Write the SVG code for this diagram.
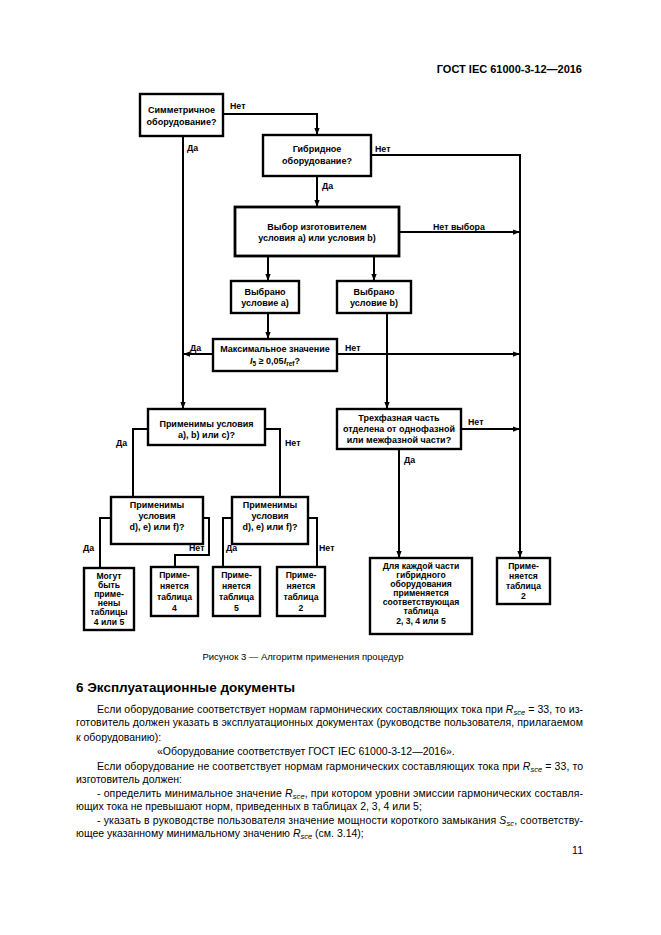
<svg xmlns="http://www.w3.org/2000/svg" width="661" height="935" viewBox="0 0 661 935">
<defs>
<marker id="ah" viewBox="0 0 8 6" refX="8" refY="3" markerWidth="7" markerHeight="5.5" markerUnits="userSpaceOnUse" orient="auto">
<path d="M0,0 L8,3 L0,6 z" fill="#000"/>
</marker>
</defs>
<style>
.bx{fill:#fff;stroke:#000;stroke-width:2.4}
.c{fill:none;stroke:#000;stroke-width:2}
.a{marker-end:url(#ah)}
.t{font-family:"Liberation Sans",Arial,sans-serif;font-size:9px;font-weight:bold;text-anchor:middle;fill:#000}
.s{font-family:"Liberation Sans",Arial,sans-serif;font-size:8.6px;font-weight:bold;text-anchor:middle;fill:#000}
.l{font-family:"Liberation Sans",Arial,sans-serif;font-size:8.8px;font-weight:bold;fill:#000}
.b{font-family:"Liberation Sans",Arial,sans-serif;font-size:10.5px;fill:#000}
.i{font-style:italic}
</style>
<rect width="661" height="935" fill="#fff"/>
<text x="582" y="73" style="font-family:'Liberation Sans',Arial,sans-serif;font-size:11px;font-weight:bold;text-anchor:end">ГОСТ IEC 61000-3-12—2016</text>

<g id="connectors">
<path class="c a" d="M223,114 H317 V135"/>
<path class="c a" d="M371,155 H520 V558"/>
<path class="c a" d="M317,176 V207"/>
<path class="c a" d="M399,232 H520"/>
<path class="c a" d="M268,256 V281"/>
<path class="c a" d="M374,256 V281"/>
<path class="c a" d="M268,313 V339"/>
<path class="c a" d="M213,354 H183"/>
<path class="c a" d="M337,354 H520"/>
<path class="c a" d="M387,313 V409"/>
<path class="c a" d="M183,136 V409"/>
<path class="c" d="M148,429 H133 V497"/>
<path class="c" d="M265,429 H280 V497"/>
<path class="c" d="M111,518 H100 V568"/>
<path class="c" d="M203,518 H209 V555 H175 V567"/>
<path class="c" d="M232,518 H223 V567"/>
<path class="c" d="M308,518 H317 V567"/>
<path class="c a" d="M461,429 H520"/>
<path class="c a" d="M399,449 V558"/>
<text class="l" x="230" y="109">Нет</text>
<text class="l" x="187" y="151">Да</text>
<text class="l" x="375" y="152">Нет</text>
<text class="l" x="322" y="189">Да</text>
<text class="l" x="433" y="230">Нет выбора</text>
<text class="l" x="190" y="351">Да</text>
<text class="l" x="345" y="351">Нет</text>
<text class="l" x="468" y="425">Нет</text>
<text class="l" x="116" y="446">Да</text>
<text class="l" x="285" y="446">Нет</text>
<text class="l" x="404" y="463">Да</text>
<text class="l" x="83" y="551">Да</text>
<text class="l" x="189" y="551">Нет</text>
<text class="l" x="226" y="551">Да</text>
<text class="l" x="319" y="551">Нет</text>
</g>

<g id="n1"><rect class="bx" x="140" y="94" width="83" height="42"/>
<text class="t" x="181.5" y="113">Симметричное</text><text class="t" x="181.5" y="125">оборудование?</text></g>
<g id="n2"><rect class="bx" x="263" y="135" width="108" height="41"/>
<text class="t" x="317" y="152">Гибридное</text><text class="t" x="317" y="164">оборудование?</text></g>
<g id="n3"><rect class="bx" x="235" y="207" width="164" height="49" style="stroke-width:2.8"/>
<text class="t" x="317" y="230">Выбор изготовителем</text><text class="t" x="317" y="241">условия a) или условия b)</text></g>
<g id="n4"><rect class="bx" x="231" y="281" width="68" height="32"/>
<text class="t" x="265" y="295">Выбрано</text><text class="t" x="265" y="306">условие a)</text></g>
<g id="n5"><rect class="bx" x="337" y="281" width="74" height="32"/>
<text class="t" x="374" y="295">Выбрано</text><text class="t" x="374" y="306">условие b)</text></g>
<g id="n6"><rect class="bx" x="213" y="339" width="124" height="32"/>
<text class="t" x="275" y="352">Максимальное значение</text>
<text class="t" x="275" y="364"><tspan class="i">I</tspan><tspan dy="2" font-size="6.5">5</tspan><tspan dy="-2"> ≥ 0,05</tspan><tspan class="i">I</tspan><tspan dy="2" font-size="6.5">ref</tspan><tspan dy="-2">?</tspan></text></g>
<g id="n7"><rect class="bx" x="148" y="409" width="117" height="36"/>
<text class="t" x="206.5" y="427">Применимы условия</text><text class="t" x="206.5" y="438">a), b) или c)?</text></g>
<g id="n8"><rect class="bx" x="337" y="409" width="124" height="40"/>
<text class="t" x="399" y="421">Трехфазная часть</text><text class="t" x="399" y="432">отделена от однофазной</text><text class="t" x="399" y="443">или межфазной части?</text></g>
<g id="n9"><rect class="bx" x="111" y="497" width="92" height="47"/>
<text class="t" x="157" y="508">Применимы</text><text class="t" x="157" y="519">условия</text><text class="t" x="157" y="530">d), e) или f)?</text></g>
<g id="n10"><rect class="bx" x="232" y="497" width="76" height="47"/>
<text class="t" x="270" y="508">Применимы</text><text class="t" x="270" y="519">условия</text><text class="t" x="270" y="530">d), e) или f)?</text></g>
<g id="n11"><rect class="bx" x="84" y="568" width="50" height="62"/>
<text class="s" x="109" y="579">Могут</text><text class="s" x="109" y="588">быть</text><text class="s" x="109" y="597">приме-</text><text class="s" x="109" y="606">нены</text><text class="s" x="109" y="615">таблицы</text><text class="s" x="109" y="625">4 или 5</text></g>
<g id="n12"><rect class="bx" x="151" y="567" width="47" height="49"/>
<text class="s" x="174.5" y="578">Приме-</text><text class="s" x="174.5" y="589">няется</text><text class="s" x="174.5" y="600">таблица</text><text class="s" x="174.5" y="611">4</text></g>
<g id="n13"><rect class="bx" x="213" y="567" width="47" height="49"/>
<text class="s" x="236.5" y="578">Приме-</text><text class="s" x="236.5" y="589">няется</text><text class="s" x="236.5" y="600">таблица</text><text class="s" x="236.5" y="611">5</text></g>
<g id="n14"><rect class="bx" x="277" y="567" width="48" height="49"/>
<text class="s" x="301" y="578">Приме-</text><text class="s" x="301" y="589">няется</text><text class="s" x="301" y="600">таблица</text><text class="s" x="301" y="611">2</text></g>
<g id="n15"><rect class="bx" x="370" y="558" width="102" height="76"/>
<text class="s" x="421" y="569">Для каждой части</text><text class="s" x="421" y="578">гибридного</text><text class="s" x="421" y="587">оборудования</text><text class="s" x="421" y="596">применяется</text><text class="s" x="421" y="605">соответствующая</text><text class="s" x="421" y="614">таблица</text><text class="s" x="421" y="624">2, 3, 4 или 5</text></g>
<g id="n16"><rect class="bx" x="497" y="558" width="53" height="46"/>
<text class="s" x="523.5" y="569">Приме-</text><text class="s" x="523.5" y="579">няется</text><text class="s" x="523.5" y="589">таблица</text><text class="s" x="523.5" y="599">2</text></g>

<text x="303" y="660" style="font-family:'Liberation Sans',Arial,sans-serif;font-size:9.5px;text-anchor:middle">Рисунок 3 — Алгоритм применения процедур</text>
<text x="76" y="692" style="font-family:'Liberation Sans',Arial,sans-serif;font-size:13.5px;font-weight:bold">6 Эксплуатационные документы</text>

<text class="b" x="97" y="713" textLength="486" lengthAdjust="spacing">Если оборудование соответствует нормам гармонических составляющих тока при <tspan class="i">R</tspan><tspan class="i" dy="2" font-size="7.5">sce</tspan><tspan dy="-2"> = 33, то из-</tspan></text>
<text class="b" x="76" y="726" textLength="507" lengthAdjust="spacing">готовитель должен указать в эксплуатационных документах (руководстве пользователя, прилагаемом</text>
<text class="b" x="76" y="741">к оборудованию):</text>
<text class="b" x="157" y="755">«Оборудование соответствует ГОСТ IEC 61000-3-12—2016».</text>
<text class="b" x="97" y="770" textLength="486" lengthAdjust="spacing">Если оборудование не соответствует нормам гармонических составляющих тока при <tspan class="i">R</tspan><tspan class="i" dy="2" font-size="7.5">sce</tspan><tspan dy="-2"> = 33, то</tspan></text>
<text class="b" x="76" y="783">изготовитель должен:</text>
<text class="b" x="97" y="797" textLength="486" lengthAdjust="spacing">- определить минимальное значение <tspan class="i">R</tspan><tspan class="i" dy="2" font-size="7.5">sce</tspan><tspan dy="-2">, при котором уровни эмиссии гармонических составля-</tspan></text>
<text class="b" x="76" y="810">ющих тока не превышают норм, приведенных в таблицах 2, 3, 4 или 5;</text>
<text class="b" x="97" y="824" textLength="486" lengthAdjust="spacing">- указать в руководстве пользователя значение мощности короткого замыкания <tspan class="i">S</tspan><tspan class="i" dy="2" font-size="7.5">sc</tspan><tspan dy="-2">, соответству-</tspan></text>
<text class="b" x="76" y="837">ющее указанному минимальному значению <tspan class="i">R</tspan><tspan class="i" dy="2" font-size="7.5">sce</tspan><tspan dy="-2"> (см. 3.14);</tspan></text>
<text class="b" x="583" y="854" style="text-anchor:end">11</text>
</svg>
